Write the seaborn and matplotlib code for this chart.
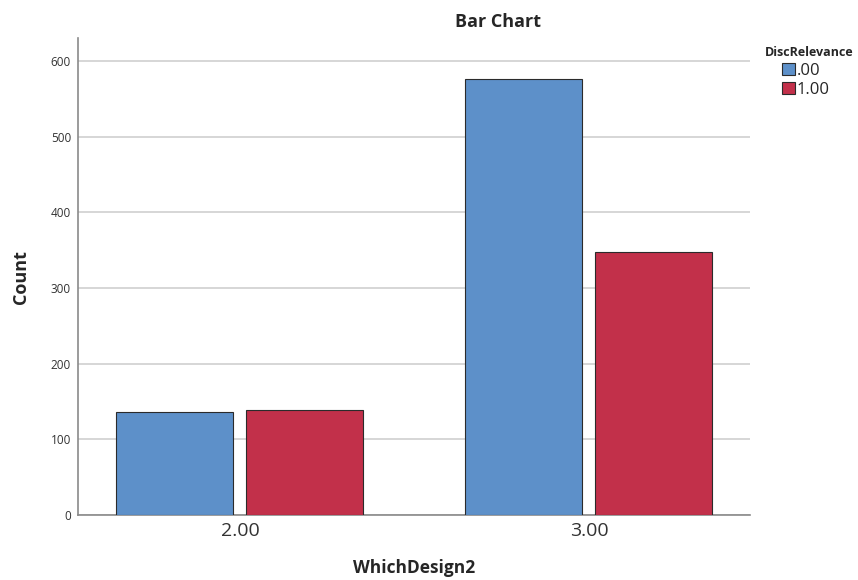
import pandas as pd
import matplotlib.pyplot as plt
import seaborn as sns

# data
designs = ['2.00', '3.00']
relevance = ['.00', '1.00']
counts_00 = [136, 576]
counts_10 = [139, 348]

df = pd.DataFrame({
    'WhichDesign2': designs * 2,
    'DiscRelevance': [relevance[0]] * 2 + [relevance[1]] * 2,
    'Count': counts_00 + counts_10,
})

sns.set_style('white')
plt.rcParams['font.family'] = ['Open Sans', 'DejaVu Sans']

fig = plt.figure(figsize=(8.58, 5.8), dpi=100)
ax = fig.add_axes([0.0909, 0.112, 0.783, 0.822])

palette = {'.00': '#5d90c9', '1.00': '#c2304a'}
sns.barplot(data=df, x='WhichDesign2', y='Count', hue='DiscRelevance',
            palette=palette, width=0.745, gap=0.1, ax=ax,
            edgecolor='#2b2b2b', linewidth=0.8, saturation=1, zorder=3)

ax.set_xlim(-0.464, 1.461)
ax.set_ylim(0, 630)
ax.set_yticks([0, 100, 200, 300, 400, 500, 600])
ax.yaxis.grid(True, color='#d0d0d0', linewidth=1.2, zorder=0)
ax.set_axisbelow(True)

sns.despine(ax=ax)
for s in ['left', 'bottom']:
    ax.spines[s].set_color('#8a8a8a')
    ax.spines[s].set_linewidth(1.2)

ax.tick_params(axis='y', labelsize=8.5, colors='#333333', length=0, pad=5)
ax.tick_params(axis='x', labelsize=14, colors='#333333', length=0, pad=5)

ax.set_xlabel('WhichDesign2', fontweight='bold', fontsize=12.5, labelpad=14)
ax.set_ylabel('Count', fontweight='bold', fontsize=13, labelpad=15)

fig.text(0.58, 0.962, 'Bar Chart', fontweight='bold', fontsize=13,
         ha='center', va='center')

# legend title drawn separately so the entries sit indented under it
fig.text(765 / 858, 1 - 52 / 580, 'DiscRelevance', fontweight='bold',
         fontsize=9, ha='left', va='center')
leg = ax.legend(loc='upper left', bbox_to_anchor=(782 / 858, 1 - 63 / 580),
                bbox_transform=fig.transFigure, frameon=False,
                fontsize=12, handlelength=0.75, handleheight=0.75,
                handletextpad=0.15, labelspacing=0.15, borderaxespad=0,
                borderpad=0)

fig.savefig('out.png', dpi=100)
